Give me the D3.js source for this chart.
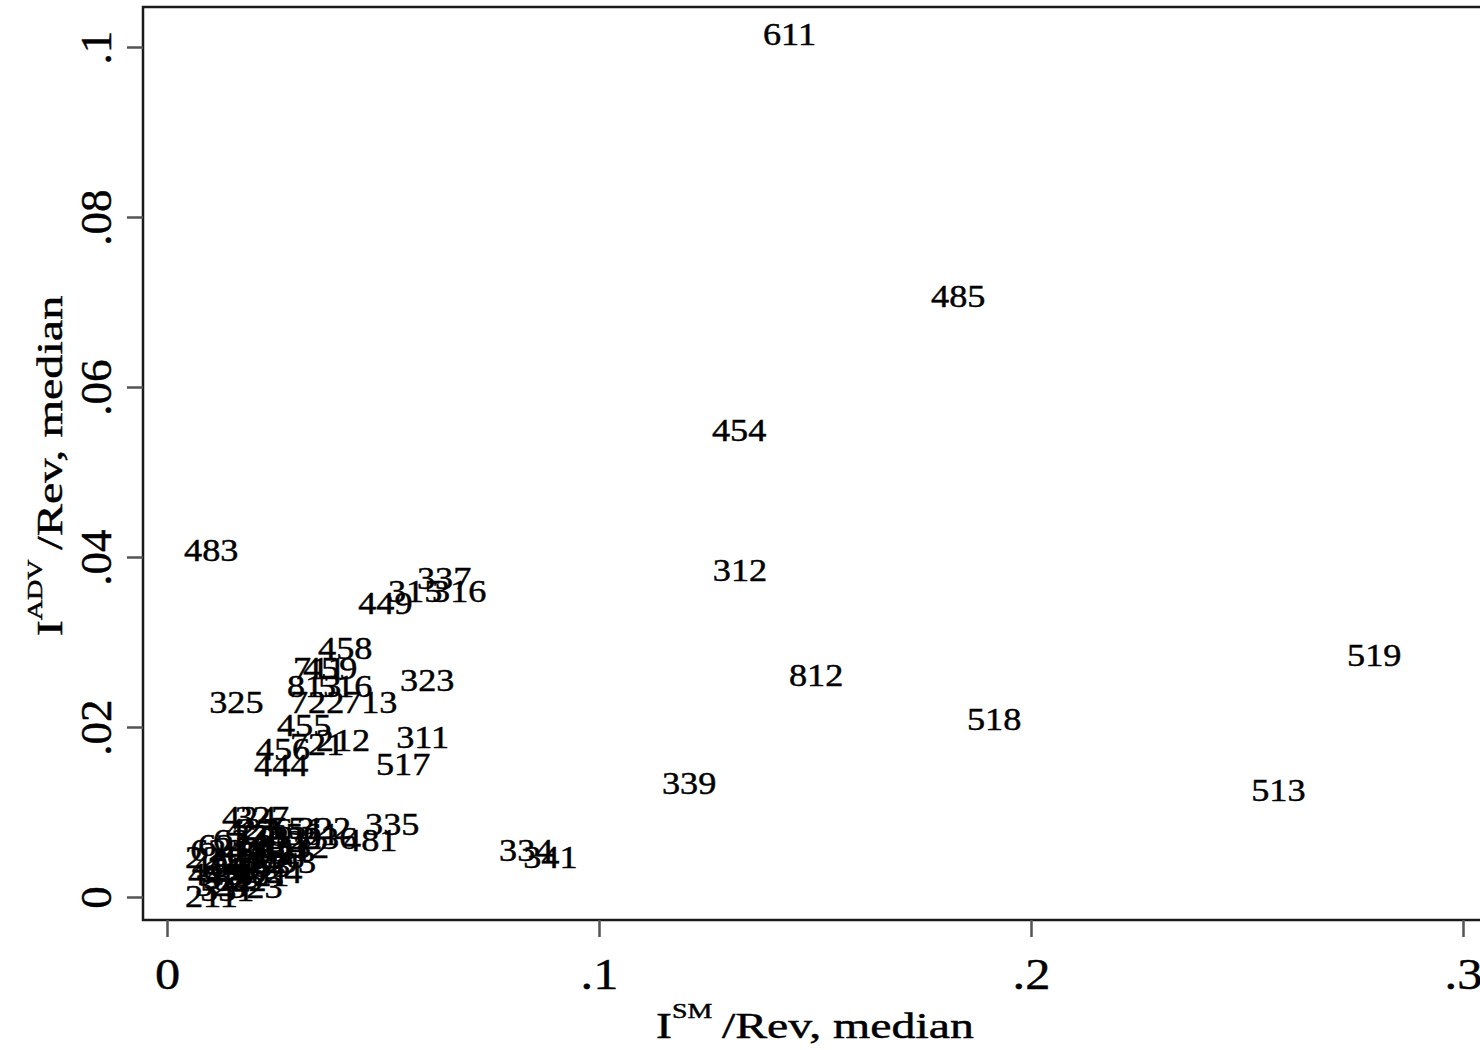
<!DOCTYPE html>
<head>
  <meta charset="utf-8">
  <script src="https://d3js.org/d3.v7.min.js"></script>
  <style>
body {
	margin:0;
	background:#fff;
	}
text {
	font-family: "Liberation Serif", "Times New Roman", serif;
	fill: #000;
	stroke: #000;
	stroke-width: 0.45px;
	}
  </style>
</head>

<body>
  <div id="graph"></div>
<script>
// industry codes (marker labels) and their medians
var codes = ["611","485","454","312","483","519","812","518","339","513",
  "334","341","335","481","322","336","323","311","517","325",
  "337","316","315","449","458","711","459","813","516","722",
  "713","455","212","721","456","444",
  "424","327","332","331","326","423","621","221","333","442",
  "445","448","452","441","321","562","324","531","211","622",
  "453","541","238","551",
  "484","488","492","493","522","523","524","532","561","623",
  "624","236"];
var smRev = [0.1368,0.1757,0.1250,0.1252,0.0028,0.2720,0.1428,0.1840,0.1134,0.2498,
  0.0757,0.0813,0.0447,0.0396,0.0289,0.0303,0.0528,0.0519,0.0472,0.0086,
  0.0567,0.0602,0.0500,0.0431,0.0338,0.0280,0.0303,0.0266,0.0338,0.0273,
  0.0396,0.0243,0.0333,0.0273,0.0194,0.0190,
  0.0116,0.0145,0.0222,0.0192,0.0139,0.0125,0.0060,0.0030,0.0088,0.0076,
  0.0037,0.0100,0.0139,0.0125,0.0146,0.0157,0.0053,0.0065,0.0030,0.0093,
  0.0148,0.0199,0.0181,0.0227,
  0.0046,0.0106,0.0181,0.0208,0.0072,0.0130,0.0176,0.0238,0.0262,0.0042,
  0.0095,0.0153];
var advRev = [0.1015,0.0707,0.0549,0.0384,0.0408,0.0284,0.0261,0.0209,0.0133,0.0125,
  0.0055,0.0047,0.0085,0.0067,0.0081,0.0069,0.0255,0.0188,0.0156,0.0229,
  0.0375,0.0359,0.0359,0.0345,0.0292,0.0269,0.0269,0.0248,0.0248,0.0229,
  0.0229,0.0202,0.0184,0.0179,0.0173,0.0155,
  0.0093,0.0093,0.0069,0.0061,0.0072,0.0079,0.0061,0.0046,0.0044,0.0034,
  0.0026,0.0026,0.0041,0.0055,0.0025,0.0052,0.0014,0.0008,0.0001,0.0020,
  0.0036,0.0055,0.0046,0.0081,
  0.0036,0.0053,0.0065,0.0041,0.0022,0.0011,0.0029,0.0058,0.0073,0.0055,
  0.0067,0.0079];
var xTicks = [0, 0.1, 0.2, 0.3];
var yTicks = [0, 0.02, 0.04, 0.06, 0.08, 0.1];

var W = 1480, H = 1050;
var frame = {left: 143, top: 7, right: 1485, bottom: 920};

var x = d3.scaleLinear().domain([0, 0.3]).range([167, 1463]);
var y = d3.scaleLinear().domain([0, 0.1]).range([897, 47]);

var fmt = function(d) { return d === 0 ? "0" : d3.format(".2~f")(d).replace(/^0/, ""); };

var svg = d3.select("#graph").append("svg")
  .attr("width", W).attr("height", H);

// plot frame
svg.append("rect")
  .attr("x", frame.left).attr("y", frame.top)
  .attr("width", frame.right - frame.left)
  .attr("height", frame.bottom - frame.top)
  .attr("fill", "none").attr("stroke", "#1a1a1a").attr("stroke-width", 2.5);

// x axis
var xaxis = svg.append("g")
  .attr("transform", "translate(0," + frame.bottom + ")")
  .call(d3.axisBottom(x).tickValues(xTicks).tickFormat(fmt)
    .tickSizeInner(17).tickSizeOuter(0).tickPadding(20));
xaxis.select(".domain").remove();
xaxis.selectAll("line").attr("stroke", "#555").attr("stroke-width", 2.5);
xaxis.selectAll("text")
  .attr("font-size", 45).attr("font-family", "Liberation Serif")
  .attr("fill", "#000")
  .attr("transform", "scale(1.12,1)");

// y axis, rotated labels
var yaxis = svg.append("g")
  .attr("transform", "translate(" + frame.left + ",0)")
  .call(d3.axisLeft(y).tickValues(yTicks).tickFormat(fmt)
    .tickSizeInner(16).tickSizeOuter(0));
yaxis.select(".domain").remove();
yaxis.selectAll("line").attr("stroke", "#555").attr("stroke-width", 2.5);
yaxis.selectAll("text")
  .attr("font-size", 45).attr("font-family", "Liberation Serif")
  .attr("fill", "#000")
  .attr("x", 0).attr("y", -32).attr("dy", 0)
  .attr("text-anchor", "middle")
  .attr("transform", "rotate(-90)");

// axis titles
var xt = svg.append("text")
  .attr("transform", "translate(815,1038) scale(1.33,1)")
  .attr("text-anchor", "middle")
  .attr("font-size", 36);
xt.append("tspan").text("I");
xt.append("tspan").attr("font-size", 21).attr("dy", -20).text("SM");
xt.append("tspan").attr("dy", 20).text("\u2009/Rev, median");

var yt = svg.append("text")
  .attr("transform", "translate(62,466) rotate(-90) scale(1.34,1)")
  .attr("text-anchor", "middle")
  .attr("font-size", 36);
yt.append("tspan").text("I");
yt.append("tspan").attr("font-size", 21).attr("dy", -20).text("ADV");
yt.append("tspan").attr("dy", 20).text("\u2009/Rev, median");

// marker labels (no symbols), placed at 3 o'clock
var pts = codes.map(function(c, i) { return {code: c, sm: smRev[i], adv: advRev[i]}; });
svg.append("g").selectAll("text")
  .data(pts)
  .enter().append("text")
    .attr("font-size", 31)
    .attr("transform", function(d) {
      return "translate(" + (x(d.sm) + 5) + "," + (y(d.adv) + 10.5) + ") scale(1.17,1)";
    })
    .text(function(d) { return d.code; });
</script>
</body>
